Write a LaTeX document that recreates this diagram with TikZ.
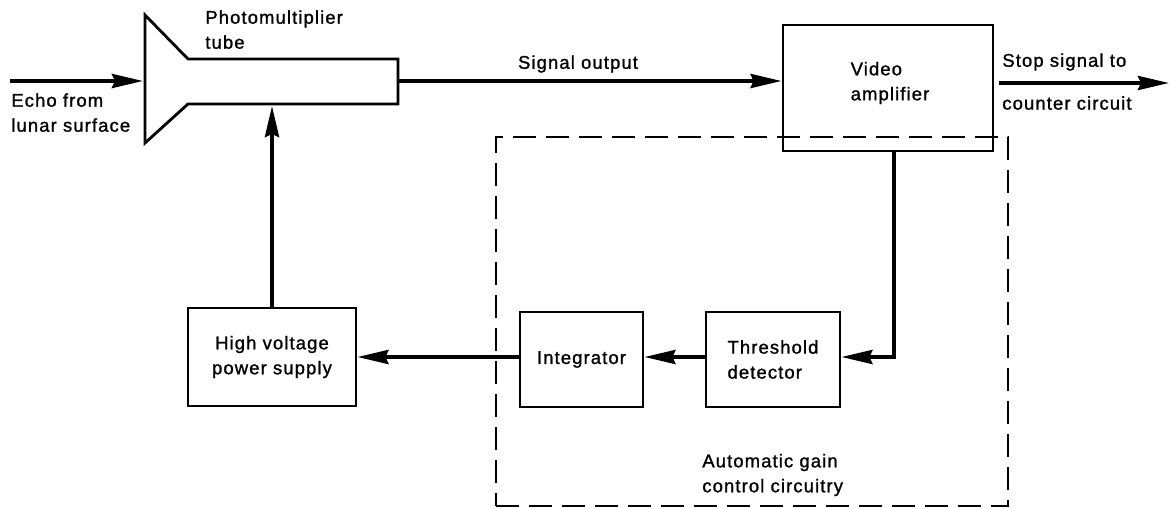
\documentclass[tikz,border=0pt]{standalone}
\usepackage{fontspec}
\setmainfont[LetterSpace=6, FakeBold=1.2]{Liberation Sans}
\usepackage{tikz}
\usetikzlibrary{arrows.meta,positioning}

\begin{document}
\begin{tikzpicture}[every node/.style={font=\fontsize{10.5}{14.2}\selectfont, inner sep=0pt}]
  \tikzstyle{Block}=[draw, line width=1.6pt, align=center]
  \tikzstyle{Wire}=[line width=2.2pt, -{Stealth[length=6.2mm, width=2.8mm, inset=0.6mm]}]
  \tikzstyle{AgcBox}=[draw, line width=1.6pt, dash pattern=on 0.46cm off 0.2cm]
  \useasboundingbox (0,0) rectangle (23.38,-10.16);

  \node[AgcBox, minimum width=10.24cm, minimum height=7.38cm] (agc) at (15.04,-6.43) {};
  \node[Block, minimum width=4.2cm, minimum height=2.52cm] (video) at (17.76,-1.76) {};
  \node[align=left] (videotext) at (17.8,-1.66) {Video\\amplifier};
  \node[Block, minimum width=3.36cm, minimum height=1.96cm] (hv) at (5.44,-7.14) {High voltage\\power supply};
  \node[Block, minimum width=2.46cm, minimum height=1.9cm] (integrator) at (11.63,-7.19) {Integrator};
  \node[Block, minimum width=2.68cm, minimum height=1.9cm, align=left] (threshold) at (15.46,-7.19) {Threshold\\detector};

  \draw[line width=1.6pt, line join=miter] (2.9,-0.3) -- (3.76,-1.18) -- (7.96,-1.18) -- (7.96,-2.08)
    -- (3.76,-2.08) -- (2.9,-2.86) -- cycle;
  \coordinate (tubein) at (2.86,-1.62);
  \coordinate (tubeout) at (7.98,-1.62);
  \coordinate (tubebot) at (5.44,-2.12);
  \coordinate (echo) at (0.2,-1.62);
  \coordinate (stop) at (23.38,-1.66);
  \coordinate (fb) at (17.88,-7.14);

  \node[anchor=north west, align=left] (tubelabel) at (4.1,-0.2) {Photomultiplier\\tube};
  \node[anchor=north west, align=left] (echolabel) at (0.22,-1.86) {Echo from\\lunar surface};
  \node (signal) at (11.56,-1.28) {Signal output};
  \node[anchor=west] (stoptop) at (20.04,-1.24) {Stop signal to};
  \node[anchor=west] (stopbot) at (20.04,-2.06) {counter circuit};
  \node[anchor=west, align=left] (agclabel) at (14.04,-9.5) {Automatic gain\\control circuitry};

  \draw[Wire] (echo) to (tubein);
  \draw[Wire] (tubeout) to (tubeout -| video.west);
  \draw[Wire] ([xshift=1mm]video.east |- stop) to (stop);
  \draw[Wire] (fb |- video.south) -- (fb) -- (fb -| threshold.east);
  \draw[Wire] (threshold.west |- fb) to (integrator.east |- fb);
  \draw[Wire] (integrator.west |- fb) to (hv.east |- fb);
  \draw[Wire] (hv.north) to (tubebot);
\end{tikzpicture}
\end{document}
